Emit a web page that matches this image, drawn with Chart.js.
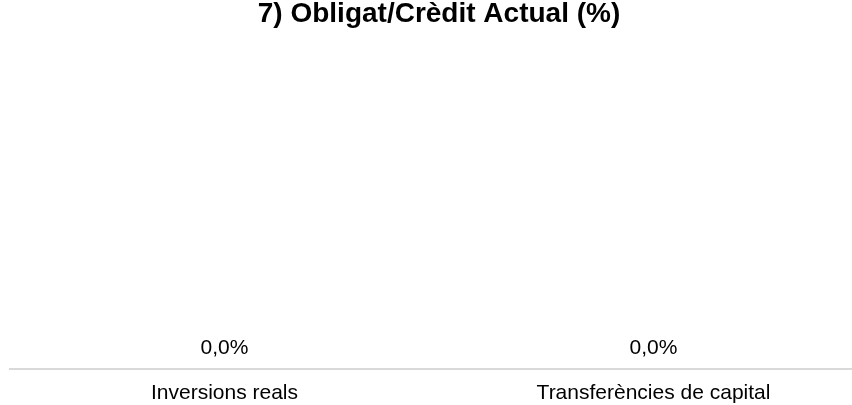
<!DOCTYPE html>
<html>
<head>
<meta charset="utf-8">
<script src="https://cdn.jsdelivr.net/npm/chart.js@4"></script>
<style>
html,body{margin:0;padding:0;overflow:hidden;background:#fff;width:852px;height:405px;}
canvas{display:block;}
</style>
</head>
<body>
<canvas id="c" width="884" height="405"></canvas>
<script>
const titleText = "7) Obligat/Crèdit Actual (%)";
const categories = ["Inversions reals", "Transferències de capital"];
const values = [0.0, 0.0];

const fontFam = "'Liberation Sans', Arial, sans-serif";

const valueLabels = {
  id: 'valueLabels',
  afterDatasetsDraw(chart) {
    const ctx = chart.ctx;
    const meta = chart.getDatasetMeta(0);
    ctx.save();
    ctx.font = "21px " + fontFam;
    ctx.fillStyle = "#000";
    ctx.textAlign = "center";
    ctx.textBaseline = "bottom";
    meta.data.forEach((bar, i) => {
      const v = chart.data.datasets[0].data[i];
      const txt = v.toFixed(1).replace('.', ',') + '%';
      ctx.fillText(txt, bar.x, bar.y - 10);
    });
    ctx.restore();
  }
};

new Chart(document.getElementById('c'), {
  type: 'bar',
  data: {
    labels: categories,
    datasets: [{ data: values, backgroundColor: '#4472c4', borderWidth: 0 }]
  },
  options: {
    responsive: false,
    animation: false,
    layout: { padding: { left: 10, right: 16, top: 0, bottom: -13 } },
    plugins: {
      legend: { display: false },
      tooltip: { enabled: false },
      title: {
        display: true,
        text: titleText,
        color: '#000',
        font: { family: fontFam, size: 28, weight: 'bold', lineHeight: 1 },
        padding: { top: 0, bottom: 10 }
      }
    },
    scales: {
      x: {
        grid: { display: false, drawTicks: false },
        border: { display: true, color: '#d9d9d9', width: 2 },
        ticks: { color: '#000', font: { family: fontFam, size: 21 }, padding: 12 }
      },
      y: { display: false, min: 0, max: 1 }
    }
  },
  plugins: [valueLabels]
});
</script>
</body>
</html>
